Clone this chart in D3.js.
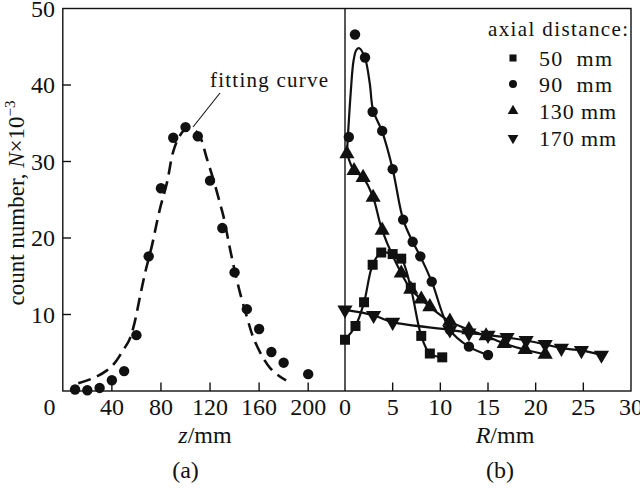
<!DOCTYPE html>
<html><head><meta charset="utf-8">
<script src="https://cdn.jsdelivr.net/npm/d3@7"></script>
<style>
body{margin:0;background:#fff}
text{font-family:"Liberation Serif","Times New Roman",Times,serif;fill:#111;white-space:pre}
</style></head>
<body><svg id="c" width="640" height="489"></svg>
<script>
// ---- panel (a) data ----
const zPoints = [10,20,30,40,50,60,70,80,90,100,110,120,130,140,150,160,170,180,200];
const nPoints = [0.2,0.1,0.4,1.4,2.6,7.3,17.6,26.5,33.1,34.5,33.3,27.5,21.3,15.5,10.7,8.1,5.1,3.7,2.2];
const fitZ = [12.6,25,36,43,49,54,58,63,67,70,72.5,79,85,90,95.5,101,109,113,117,123,128,131,136,140,144.5,150,155,162,169,176,182];
const fitN = [1.0,1.7,2.7,3.8,5.3,6.6,8.6,12.4,15.4,17.3,18.9,23.7,27.3,31.3,33.4,34.3,33.9,32.8,30.6,27.5,24.6,22.8,18.8,15.8,12.8,9.7,7.1,4.7,3.0,2.0,1.4];
const zTicks = [40,80,120,160,200];
// ---- panel (b) data ----
const seriesNames = ["50  mm","90  mm","130 mm","170 mm"];
const r50  = [0,1.1,2,2.9,3.8,5,5.9,6.9,8,8.9,10.2];
const n50  = [6.7,8.5,11.6,16.5,18.1,17.9,17.3,13.5,7.2,4.9,4.4];
const r90  = [0.4,1.05,2.1,2.9,3.9,5,6.1,7.1,7.9,9.1,11,13,15];
const n90  = [33.2,46.6,43.6,36.5,34,29,22.4,19.5,17.6,14.3,8.0,5.8,4.7];
const r90line = [0.2,0.6,0.9,1.2,1.5,2.1,2.6,2.95,3.9,5,6.1,7.1,7.9,9.1,11,13,15];
const n90line = [31.0,39.0,43.2,44.6,44.8,43.5,40.2,36.7,33.9,29,22.4,19.5,17.6,14.3,8.0,5.8,4.7];
const r130 = [0.2,0.95,1.9,2.95,3.9,5.9,6.9,8,8.9,11,13,14.8,16.7,18.9,21];
const n130 = [31,28.8,27.9,25.3,21,15.4,13.3,12.0,11.0,9.1,8.0,7.2,6.2,5.4,4.8];
const r170 = [0,3,5,11,13,15,17,19,21,22.7,24.8,26.9];
const n170 = [10.6,9.9,9.0,8.0,7.6,7.3,7.0,6.6,6.1,5.6,5.3,4.7];
const rTicks = [5,10,15,20,25];
const yTicks = [10,20,30,40];

const svg = d3.select("#c");
const y = d3.scaleLinear().domain([0,50]).range([391,8.5]);
const xL = d3.scaleLinear().domain([0,230]).range([62.8,345]);
const xR = d3.scaleLinear().domain([0,30]).range([345,631]);
const ink = "#111";

// frame
svg.append("rect").attr("x",62.8).attr("y",8.5).attr("width",631-62.8).attr("height",391-8.5)
  .attr("fill","none").attr("stroke",ink).attr("stroke-width",1.4);
svg.append("line").attr("x1",345).attr("x2",345).attr("y1",8.5).attr("y2",391).attr("stroke",ink).attr("stroke-width",1.4);

// y ticks (inward)
yTicks.forEach(v=>{
  svg.append("line").attr("x1",62.8).attr("x2",71).attr("y1",y(v)).attr("y2",y(v)).attr("stroke",ink).attr("stroke-width",1.4);
});
[10,20,30,40,50].forEach(v=>{
  svg.append("text").attr("x",55).attr("y",y(v)).attr("dy","0.34em").attr("text-anchor","end")
    .attr("font-size",24).text(v);
});
// x ticks
zTicks.forEach(v=>{
  svg.append("line").attr("x1",xL(v)).attr("x2",xL(v)).attr("y1",391).attr("y2",382.5).attr("stroke",ink).attr("stroke-width",1.4);
  svg.append("text").attr("x",xL(v)).attr("y",415).attr("text-anchor","middle").attr("font-size",24).text(v);
});
svg.append("text").attr("x",49.5).attr("y",415).attr("text-anchor","middle").attr("font-size",24).text("0");
rTicks.forEach(v=>{
  svg.append("line").attr("x1",xR(v)).attr("x2",xR(v)).attr("y1",391).attr("y2",382.5).attr("stroke",ink).attr("stroke-width",1.4);
});
[0,5,10,15,20,25,30].forEach(v=>{
  svg.append("text").attr("x",xR(v)).attr("y",415).attr("text-anchor","middle").attr("font-size",24).text(v);
});

// axis titles
const tz = svg.append("text").attr("x",205).attr("y",443).attr("text-anchor","middle").attr("font-size",24);
tz.append("tspan").attr("font-style","italic").text("z");
tz.append("tspan").text("/mm");
const tr = svg.append("text").attr("x",505).attr("y",443).attr("text-anchor","middle").attr("font-size",24);
tr.append("tspan").attr("font-style","italic").text("R");
tr.append("tspan").text("/mm");
svg.append("text").attr("x",185.5).attr("y",478).attr("text-anchor","middle").attr("font-size",24).text("(a)");
svg.append("text").attr("x",500).attr("y",478).attr("text-anchor","middle").attr("font-size",24).text("(b)");

// y label
const yl = svg.append("text").attr("transform","translate(24,203) rotate(-90)").attr("text-anchor","middle").attr("font-size",23);
yl.append("tspan").text("count number, ");
yl.append("tspan").attr("font-style","italic").text("N");
yl.append("tspan").text("×10");
yl.append("tspan").attr("font-size",15).attr("dy",-9).text("−3");

// panel (a)
const fitData = fitZ.map((z,i)=>[z,fitN[i]]);
svg.append("path").datum(fitData)
  .attr("d",d3.line().x(d=>xL(d[0])).y(d=>y(d[1])).curve(d3.curveCatmullRom.alpha(0.5)))
  .attr("fill","none").attr("stroke",ink).attr("stroke-width",2.6).attr("stroke-dasharray","13,7");
svg.selectAll("circle.a").data(zPoints.map((z,i)=>[z,nPoints[i]])).enter().append("circle")
  .attr("cx",d=>xL(d[0])).attr("cy",d=>y(d[1])).attr("r",5.2).attr("fill",ink);
svg.append("line").attr("x1",220).attr("y1",93).attr("x2",193).attr("y2",127).attr("stroke",ink).attr("stroke-width",1.1);
svg.append("text").attr("x",210).attr("y",87).attr("font-size",21).attr("textLength",118).attr("lengthAdjust","spacing").text("fitting curve");

// panel (b)
const sym = [d3.symbolSquare,d3.symbolCircle,d3.symbolTriangle,d3.symbolTriangle];
const rot = [0,0,0,180];
const lineR = d3.line().x(d=>xR(d[0])).y(d=>y(d[1])).curve(d3.curveCatmullRom.alpha(0.5));
const lines = [
  r50.map((r,i)=>[r,n50[i]]),
  r90line.map((r,i)=>[r,n90line[i]]),
  [[0,31.5]].concat(r130.map((r,i)=>[r,n130[i]])),
  r170.map((r,i)=>[r,n170[i]])
];
const marks = [
  r50.map((r,i)=>[r,n50[i]]),
  r90.map((r,i)=>[r,n90[i]]),
  r130.map((r,i)=>[r,n130[i]]),
  r170.map((r,i)=>[r,n170[i]])
];
const sizes = [100,85,100,100];
lines.forEach(L=>{
  svg.append("path").datum(L).attr("d",lineR).attr("fill","none").attr("stroke",ink).attr("stroke-width",2.2);
});
marks.forEach((M,k)=>{
  svg.append("g").selectAll("path").data(M).enter().append("path")
    .attr("d",d3.symbol().type(sym[k]).size(sizes[k]))
    .attr("transform",d=>`translate(${xR(d[0])},${y(d[1])}) rotate(${rot[k]})`)
    .attr("fill",ink);
});

// legend
svg.append("text").attr("x",488).attr("y",36).attr("font-size",21).attr("textLength",140).attr("lengthAdjust","spacing").text("axial distance:");
const legY = [66,92,119,146];
const legW = [73,73,77,77];
seriesNames.forEach((s,k)=>{
  svg.append("path").attr("d",d3.symbol().type(sym[k]).size(50))
    .attr("transform",`translate(513,${legY[k]-8}) rotate(${rot[k]})`).attr("fill",ink);
  svg.append("text").attr("x",539).attr("y",legY[k]).attr("font-size",22)
    .attr("textLength",legW[k]).attr("lengthAdjust","spacing").text(s);
});
</script></body></html>
